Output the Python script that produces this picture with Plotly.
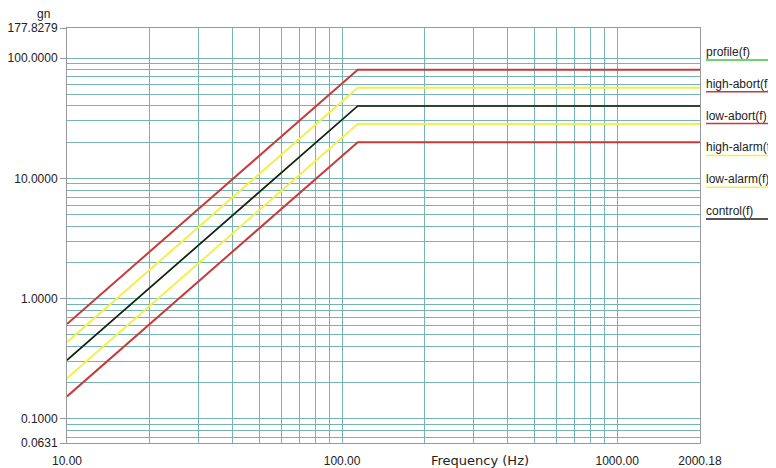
import plotly.graph_objects as go
import math

# ---- data ----
freq = [10.0, 114.0, 2000.18]
profile = [0.308, 40.0, 40.0]
high_abort = [0.616, 80.0, 80.0]
low_abort = [0.154, 20.0, 20.0]
high_alarm = [0.435, 56.57, 56.57]
low_alarm = [0.218, 28.28, 28.28]
control = [0.308, 40.0, 40.0]

x_tick_vals = [10, 100, 1000, 2000.18]
x_tick_text = ["10.00", "100.00", "1000.00", "2000.18"]
y_tick_vals = [0.0631, 0.1, 1, 10, 100, 177.8279]
y_tick_text = ["0.0631", "0.1000", "1.0000", "10.0000", "100.0000", "177.8279"]

x_minor = [k * 10 ** d for d in (1, 2) for k in range(2, 10)] + [1000]
y_minor = [k * 10 ** d for d in (-2, -1, 0, 1) for k in range(1, 10)] + [100]
y_minor = [v for v in y_minor if 0.0631 < v <= 100]

legend_names = ["profile(f)", "high-abort(f)", "low-abort(f)", "high-alarm(f)", "low-alarm(f)", "control(f)"]

RED = "#c83a3a"
YEL = "#f2f04a"
BLK = "#1c1c1c"
GRN = "#3cc43c"
legend_colors = [GRN, RED, RED, YEL, YEL, BLK]

fig = go.Figure()
series = [
    ("profile(f)", profile, GRN, 1.5),
    ("high-abort(f)", high_abort, RED, 2),
    ("low-abort(f)", low_abort, RED, 2),
    ("high-alarm(f)", high_alarm, YEL, 2),
    ("low-alarm(f)", low_alarm, YEL, 2),
    ("control(f)", control, BLK, 1.6),
]
for name, vals, col, w in series:
    fig.add_trace(go.Scatter(x=freq, y=vals, mode="lines", name=name,
                             line=dict(color=col, width=w), showlegend=False))

GRID = "#76b3b3"
# page body has an 8px default margin -> figure is 768x460 so it fits the 776x468 window
fig.update_layout(
    width=768, height=460,
    margin=dict(l=59, r=76, t=20, b=25, autoexpand=False),
    paper_bgcolor="white", plot_bgcolor="white",
    font=dict(family="Liberation Sans, Arial", size=12, color="#222"),
    xaxis=dict(type="log", range=[1, math.log10(2000.18)], automargin=False,
               tickmode="array", tickvals=x_tick_vals, ticktext=x_tick_text,
               showgrid=True, gridcolor=GRID, gridwidth=1,
               ticks="", ticklabelstandoff=7,
               showline=True, linecolor="#999", linewidth=1, mirror=True,
               zeroline=False,
               minor=dict(tickmode="array", tickvals=x_minor, showgrid=True,
                          gridcolor=GRID, gridwidth=1, ticks=""),
               tickfont=dict(family="Liberation Sans, Arial", size=12, color="#222")),
    yaxis=dict(type="log", range=[math.log10(0.0631), math.log10(177.8279)], automargin=False,
               tickmode="array", tickvals=y_tick_vals, ticktext=y_tick_text,
               showgrid=False,
               ticks="outside", ticklen=6, tickcolor="#999",
               showline=True, linecolor="#999", linewidth=1, mirror=True,
               zeroline=False,
               minor=dict(tickmode="array", tickvals=y_minor, showgrid=True,
                          gridcolor=GRID, gridwidth=1, ticks=""),
               tickfont=dict(family="Liberation Sans, Arial", size=12, color="#222")),
)

# axis titles
fig.add_annotation(text="gn", xref="paper", yref="paper", x=0, y=1, xshift=-24, yshift=14,
                   xanchor="center", yanchor="middle",
                   showarrow=False, font=dict(family="Liberation Sans, Arial", size=12, color="#222"))
fig.add_annotation(text="Frequency (Hz)", xref="paper", yref="paper", x=0.653, y=0, yshift=-17,
                   xanchor="center", yanchor="middle",
                   showarrow=False, font=dict(family="DejaVu Sans", size=13, color="#222"))

# legend on the right
for i, (nm, col) in enumerate(zip(legend_names, legend_colors)):
    ypx = 52 + i * 31.8
    yp = 1 - (ypx - 28) / 415
    fig.add_annotation(text=nm, xref="paper", yref="paper", x=(704 - 67) / 633, y=yp,
                       xanchor="left", yanchor="middle", showarrow=False,
                       font=dict(family="Liberation Sans, Arial", size=12, color="#222"))
    yl = 1 - (ypx + 8 - 28) / 415
    fig.add_shape(type="line", xref="paper", yref="paper",
                  x0=(706 - 67) / 633, x1=(776 - 67) / 633, y0=yl, y1=yl,
                  line=dict(color=col, width=1.5))

fig.write_html("out.html")
